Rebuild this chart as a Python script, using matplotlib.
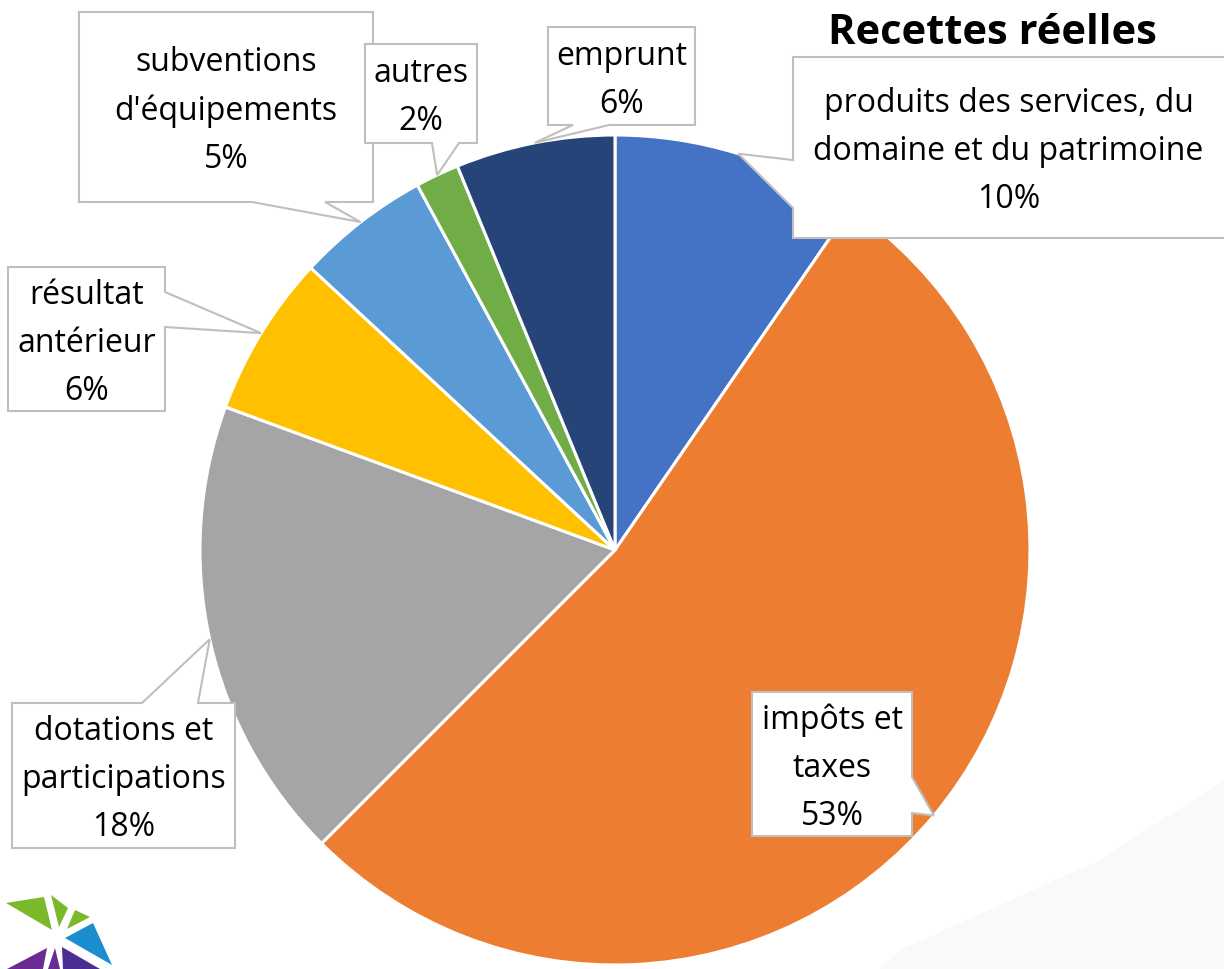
import matplotlib.pyplot as plt
from matplotlib.patches import Polygon
import numpy as np

# donnees (part des recettes reelles, en %)
labels = ["produits des services, du\ndomaine et du patrimoine", "impôts et\ntaxes",
          "dotations et\nparticipations", "résultat\nantérieur",
          "subventions\nd'équipements", "autres", "emprunt"]
values = [9.6, 52.9, 18.1, 6.3, 5.2, 1.7, 6.2]
pct_labels = ["10%", "53%", "18%", "6%", "5%", "2%", "6%"]
colors = ["#4472C4", "#ED7D31", "#A5A5A5", "#FFC000", "#5B9BD5", "#70AD47", "#264478"]

W, H = 1224, 969
cx, cy, R = 615, 550, 415  # centre et rayon en pixels (y vers le bas)

# boites des etiquettes: (x0, y0, x1, y1), cote du pointeur, base du pointeur
boxes = [
    ((793, 57, 1232, 238), "left", (160, 208)),
    ((752, 692, 912, 836), "right", (777, 813)),
    ((12, 703, 235, 848), "top", (142, 198)),
    ((8, 267, 165, 411), "right", (292, 327)),
    ((79, 12, 373, 202), "bottom", (252, 325)),
    ((365, 44, 477, 143), "bottom", (432, 459)),
    ((548, 27, 695, 125), "bottom", (573, 609)),
]

# logo en bas a gauche
logo = [
    ("#7AB929", [(6, 903), (44, 897), (52, 930)]),
    ("#7AB929", [(51, 895), (68, 908), (59, 927)]),
    ("#7AB929", [(75, 910), (90, 917), (67, 929)]),
    ("#1C8ED0", [(93, 923), (112, 965), (65, 938)]),
    ("#6A2C91", [(7, 969), (47, 948), (43, 969)]),
    ("#6A2C91", [(55, 948), (60, 969), (48, 969)]),
    ("#4B2E8F", [(62, 947), (100, 969), (63, 969)]),
]

plt.rcParams['font.family'] = ['Open Sans', 'DejaVu Sans']

fig = plt.figure(figsize=(W / 100, H / 100), dpi=100)
ax = fig.add_axes([0, 0, 1, 1])


def fy(y):
    return H - y


# fond tres clair en bas a droite
ax.add_patch(Polygon([(1224, fy(780)), (1100, fy(860)), (900, fy(950)), (880, fy(969)), (1224, fy(969))],
                     closed=True, fc="#F9F9FA", ec="none", zorder=0))

ax.pie(values, colors=colors, startangle=90, counterclock=False,
       center=(cx, fy(cy)), radius=R, frame=True,
       wedgeprops=dict(edgecolor="white", linewidth=2.2))
ax.set_xlim(0, W)
ax.set_ylim(0, H)
ax.set_aspect('equal')
ax.axis('off')

fracs = np.array(values) / sum(values)
mids = np.cumsum(fracs) - fracs / 2


def callout(box, side, base, tip):
    x0, y0, x1, y1 = box
    a, b = base
    if side == "left":
        pts = [(x0, y0), (x1, y0), (x1, y1), (x0, y1), (x0, b), tip, (x0, a)]
    elif side == "right":
        pts = [(x0, y0), (x1, y0), (x1, a), tip, (x1, b), (x1, y1), (x0, y1)]
    elif side == "top":
        pts = [(x0, y0), (a, y0), tip, (b, y0), (x1, y0), (x1, y1), (x0, y1)]
    else:
        pts = [(x0, y0), (x1, y0), (x1, y1), (b, y1), tip, (a, y1), (x0, y1)]
    return [(x, fy(y)) for x, y in pts]


for i, (box, side, base) in enumerate(boxes):
    ang = np.deg2rad(90 - 360 * mids[i])
    tip = (cx + R * np.cos(ang), cy - R * np.sin(ang))
    ax.add_patch(Polygon(callout(box, side, base, tip), closed=True,
                         fc="white", ec="#BFBFBF", lw=1.5, zorder=5))
    x0, y0, x1, y1 = box
    xc = (x0 + min(x1, W)) / 2 if i == 0 else (x0 + x1) / 2
    ax.text(xc, fy((y0 + y1) / 2 + 4), labels[i] + "\n" + pct_labels[i],
            ha="center", va="center", fontsize=23, linespacing=1.6,
            color="black", zorder=6)

ax.text(992, fy(33), "Recettes réelles", ha="center", va="center",
        fontsize=30, fontweight="bold", color="black", zorder=6)

for c, pts in logo:
    ax.add_patch(Polygon([(x, fy(y)) for x, y in pts], closed=True, fc=c, ec="none", zorder=4))

fig.savefig("out.png", dpi=100)
